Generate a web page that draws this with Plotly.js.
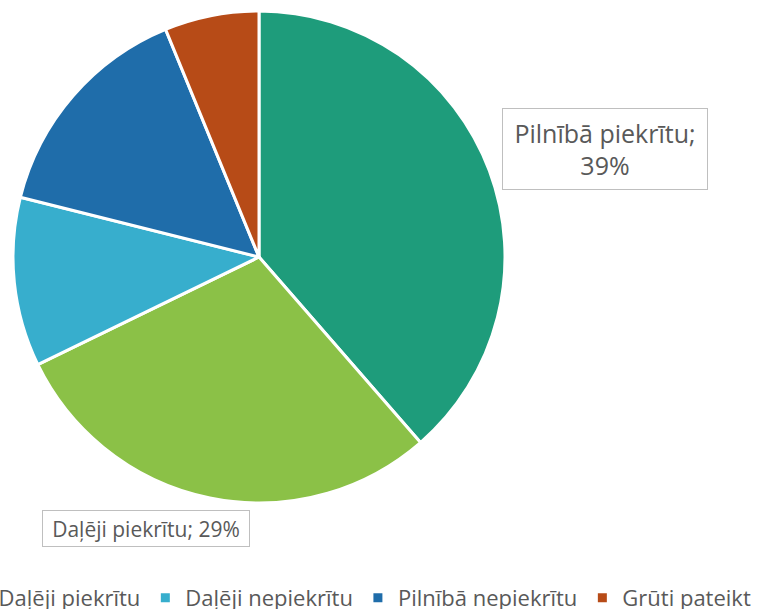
<!DOCTYPE html>
<html>
<head>
<meta charset="utf-8">
<script src="https://cdn.plot.ly/plotly-3.0.1.min.js"></script>
<style>
  html, body { margin: 0; padding: 0; overflow: hidden; background: #fff; }
  #wrap { position: absolute; left: -350px; top: 0; }
</style>
</head>
<body>
<div id="wrap"><div id="chart"></div></div>
<script>
// Data
var categories = ["Pilnībā piekrītu", "Daļēji piekrītu", "Daļēji nepiekrītu", "Pilnībā nepiekrītu", "Grūti pateikt"];
var values = [38.6, 29.2, 11.1, 14.9, 6.2];
var colors = ["#1E9C7B", "#8BC147", "#37AECD", "#1F6DAA", "#B74B17"];

var shift = 350;
var W = 759 + shift, H = 680;

var total = values.reduce(function (a, b) { return a + b; }, 0);
function pct(i) { return Math.round(values[i] / total * 100) + "%"; }

var trace = {
  type: "pie",
  labels: categories,
  values: values,
  sort: false,
  direction: "clockwise",
  rotation: 0,
  textinfo: "none",
  hoverinfo: "label+percent",
  marker: { colors: colors, line: { color: "#ffffff", width: 3 } },
  domain: { x: [(13 + shift) / W, (505 + shift) / W], y: [1 - 503 / H, 1 - 11 / H] }
};

var layout = {
  width: W,
  height: H,
  margin: { l: 0, r: 0, t: 0, b: 0 },
  paper_bgcolor: "#ffffff",
  font: { family: "Open Sans, sans-serif", color: "#595959" },
  showlegend: true,
  legend: {
    orientation: "h",
    xanchor: "right",
    x: (756 + shift) / W,
    yanchor: "middle",
    y: 1 - 598 / H,
    font: { size: 22, color: "#595959" },
    traceorder: "normal"
  },
  annotations: [
    {
      text: categories[0] + ";<br>" + pct(0),
      xref: "paper", yref: "paper",
      x: (605 + shift) / W, y: 1 - 149 / H,
      xanchor: "center", yanchor: "middle",
      showarrow: false,
      font: { size: 25, color: "#595959" },
      bordercolor: "#BFBFBF", borderwidth: 1, borderpad: 5,
      bgcolor: "#ffffff",
      width: 194, height: 70
    },
    {
      text: categories[1] + "; " + pct(1),
      xref: "paper", yref: "paper",
      x: (146 + shift) / W, y: 1 - 528 / H,
      xanchor: "center", yanchor: "middle",
      showarrow: false,
      font: { size: 21, color: "#595959" },
      bordercolor: "#BFBFBF", borderwidth: 1, borderpad: 4,
      bgcolor: "#ffffff",
      width: 198, height: 27
    }
  ]
};

Plotly.newPlot("chart", [trace], layout, { displayModeBar: false, staticPlot: true });
</script>
</body>
</html>
